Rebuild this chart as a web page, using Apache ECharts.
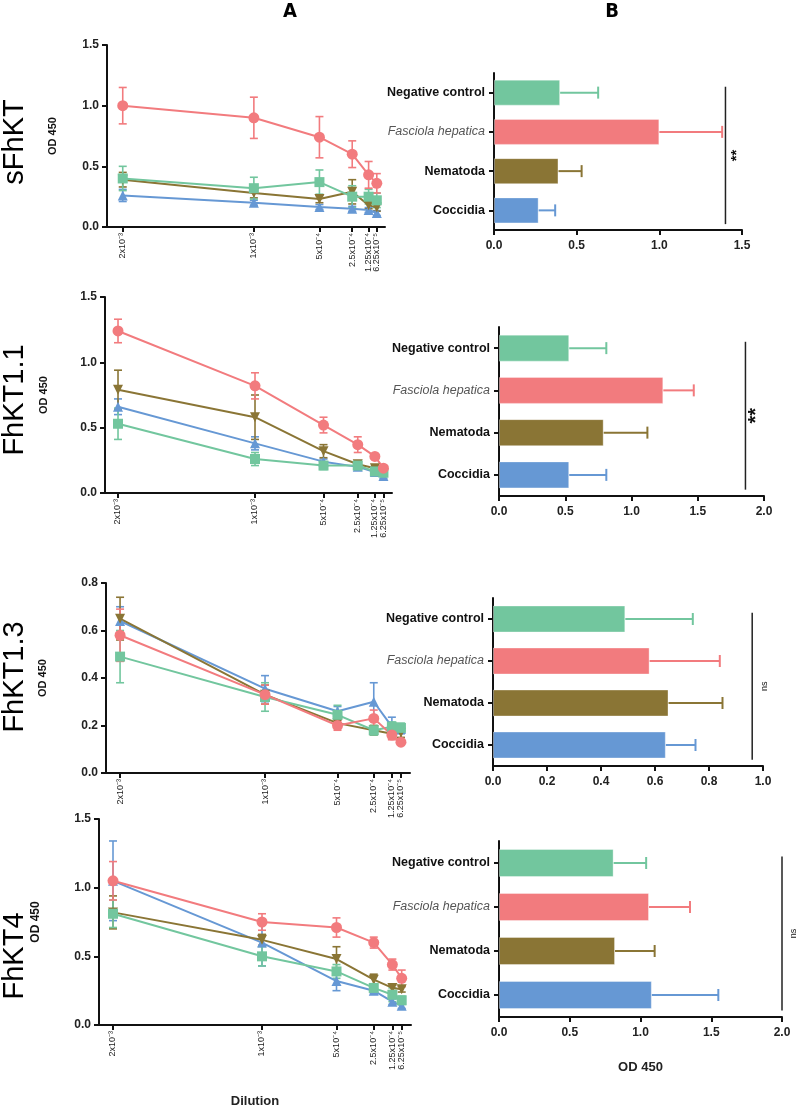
<!DOCTYPE html>
<html><head><meta charset="utf-8">
<script src="https://cdn.jsdelivr.net/npm/echarts@6/dist/echarts.min.js"></script>
<style>html,body{margin:0;padding:0;background:#fff}#c{width:800px;height:1114px}</style>
</head><body><div id="c"></div><script>
// ---------------- DATA ----------------
const dilutions = [2e-3, 1e-3, 5e-4, 2.5e-4, 1.25e-4, 6.25e-5];
const dilutionLabels = ['2x10⁻³', '1x10⁻³', '5x10⁻⁴', '2.5x10⁻⁴', '1.25x10⁻⁴', '6.25x10⁻⁵'];
const groups = ['Negative control', 'Fasciola hepatica', 'Nematoda', 'Coccidia'];
const antigens = ['sFhKT', 'FhKT1.1', 'FhKT1.3', 'FhKT4'];

// line plots (A): rows = groups [Negative control, Fasciola hepatica, Nematoda, Coccidia], cols = dilutions
const sFhKT_lineMean = [
  [0.40, 0.32, 0.37, 0.25, 0.25, 0.22],
  [1.00, 0.90, 0.74, 0.60, 0.43, 0.36],
  [0.39, 0.28, 0.23, 0.29, 0.18, 0.16],
  [0.26, 0.20, 0.165, 0.15, 0.14, 0.115]];
const sFhKT_lineErr = [
  [0.10, 0.09, 0.10, 0.09, 0.06, 0.06],
  [0.15, 0.17, 0.17, 0.11, 0.11, 0.08],
  [0.06, 0.04, 0.03, 0.10, 0.03, 0.03],
  [0.05, 0.02, 0.02, 0.02, 0.02, 0.02]];
const FhKT11_lineMean = [
  [0.53, 0.26, 0.21, 0.21, 0.165, 0.155],
  [1.24, 0.82, 0.52, 0.37, 0.28, 0.19],
  [0.79, 0.58, 0.32, 0.22, 0.19, 0.17],
  [0.66, 0.38, 0.24, 0.20, 0.16, 0.13]];
const FhKT11_lineErr = [
  [0.12, 0.05, 0.03, 0.02, 0.02, 0.02],
  [0.09, 0.10, 0.06, 0.06, 0.02, 0.02],
  [0.15, 0.17, 0.05, 0.02, 0.02, 0.02],
  [0.06, 0.05, 0.02, 0.02, 0.02, 0.02]];
const FhKT13_lineMean = [
  [0.49, 0.32, 0.245, 0.18, 0.195, 0.19],
  [0.58, 0.33, 0.20, 0.23, 0.16, 0.13],
  [0.65, 0.33, 0.21, 0.18, 0.165, 0.17],
  [0.64, 0.355, 0.26, 0.30, 0.195, 0.185]];
const FhKT13_lineErr = [
  [0.11, 0.06, 0.04, 0.02, 0.02, 0.02],
  [0.11, 0.04, 0.02, 0.035, 0.02, 0.01],
  [0.09, 0.04, 0.02, 0.02, 0.02, 0.02],
  [0.06, 0.055, 0.02, 0.08, 0.04, 0.02]];
const FhKT4_lineMean = [
  [0.81, 0.50, 0.39, 0.27, 0.22, 0.18],
  [1.05, 0.75, 0.71, 0.60, 0.44, 0.34],
  [0.82, 0.62, 0.48, 0.33, 0.27, 0.26],
  [1.05, 0.60, 0.32, 0.25, 0.17, 0.14]];
const FhKT4_lineErr = [
  [0.10, 0.07, 0.05, 0.03, 0.05, 0.03],
  [0.14, 0.06, 0.07, 0.04, 0.04, 0.06],
  [0.12, 0.04, 0.09, 0.04, 0.02, 0.02],
  [0.29, 0.17, 0.07, 0.02, 0.02, 0.02]];

// bar plots (B): [Negative control, Fasciola hepatica, Nematoda, Coccidia]
const sFhKT_barMean = [0.40, 1.00, 0.39, 0.27];
const sFhKT_barErr = [0.23, 0.38, 0.14, 0.10];
const FhKT11_barMean = [0.53, 1.24, 0.79, 0.53];
const FhKT11_barErr = [0.28, 0.23, 0.33, 0.28];
const FhKT13_barMean = [0.49, 0.58, 0.65, 0.64];
const FhKT13_barErr = [0.25, 0.26, 0.20, 0.11];
const FhKT4_barMean = [0.81, 1.06, 0.82, 1.08];
const FhKT4_barErr = [0.23, 0.29, 0.28, 0.47];

const significance = ['**', '**', 'ns', 'ns'];
const sigBracketValue = [1.40, 1.86, 0.96, 2.0];

const lineYMax = [1.5, 1.5, 0.8, 1.5];
const lineYInterval = [0.5, 0.5, 0.2, 0.5];
const barXMax = [1.5, 2.0, 1.0, 2.0];
const barXInterval = [0.5, 0.5, 0.2, 0.5];

// ---------------- STYLE / LAYOUT ----------------
const lineMeans = [sFhKT_lineMean, FhKT11_lineMean, FhKT13_lineMean, FhKT4_lineMean];
const lineErrs = [sFhKT_lineErr, FhKT11_lineErr, FhKT13_lineErr, FhKT4_lineErr];
const barMeans = [sFhKT_barMean, FhKT11_barMean, FhKT13_barMean, FhKT4_barMean];
const barErrs = [sFhKT_barErr, FhKT11_barErr, FhKT13_barErr, FhKT4_barErr];

const colors = ['#72c69e', '#f27b7e', '#8a7535', '#6698d4'];
const symbols = ['rect', 'circle', 'triangle', 'triangle'];
const symbolRot = [0, 0, 180, 0];
const symbolSizes = [10, 11, 10, 10];
const drawOrder = [3, 2, 0, 1];
const FONT = 'Liberation Sans, Arial, sans-serif';

const lineGrids = [
  {left: 107, top: 45, width: 278, height: 182},
  {left: 105, top: 297, width: 287, height: 196},
  {left: 106, top: 583, width: 304, height: 190},
  {left: 99, top: 819, width: 312, height: 206}];
const lineXMax = [2.12e-3, 2.095e-3, 2.097e-3, 2.094e-3];
const yNameGap = [49, 56, 58, 57];
const barGrids = [
  {left: 494, top: 73, width: 248, height: 157},
  {left: 499, top: 327, width: 265, height: 169},
  {left: 493, top: 598, width: 270, height: 168},
  {left: 499, top: 841, width: 283, height: 176}];
const barWidths = [26, 27, 27, 28];
const sigFont = [15, 20, 9, 9];
const sigWeight = ['bold', 'bold', 'normal', 'normal'];
const rowTitleY = [142, 400, 677, 956];

const axisLineStyle = {lineStyle: {color: '#111', width: 2}};
const tickStyle = {show: true, length: 5, lineStyle: {color: '#111', width: 2}};

function labelFor(v) {
  const i = dilutions.findIndex(d => Math.abs(d - v) < 1e-9);
  return i >= 0 ? dilutionLabels[i] : '';
}
const xLabelStyle = {rotate: 90, fontSize: 9, color: '#222', fontFamily: FONT, margin: 6,
  showMinLabel: true, showMaxLabel: true, hideOverlap: false, formatter: labelFor};

const grid = [], xAxis = [], yAxis = [], series = [];

for (let p = 0; p < 4; p++) {
  // ---- line panel ----
  const gi = grid.length;
  grid.push(Object.assign({containLabel: false}, lineGrids[p]));
  const xi = xAxis.length;
  xAxis.push({
    type: 'value', gridIndex: gi, min: 0, max: lineXMax[p], inverse: true, position: 'bottom',
    axisLine: {show: true, onZero: false, ...axisLineStyle},
    axisTick: {show: true, length: 5, customValues: dilutions, lineStyle: {color: '#111', width: 2}},
    axisLabel: Object.assign({customValues: dilutions.filter((d, i) => i !== 4)}, xLabelStyle),
    splitLine: {show: false},
    name: p === 3 ? 'Dilution' : '', nameLocation: 'middle', nameGap: 70,
    nameTextStyle: {fontSize: 13, fontWeight: 'bold', color: '#222', fontFamily: FONT}
  });
  // overlay axis carrying the crowded 1.25x10^-4 label
  xAxis.push({
    type: 'value', gridIndex: gi, min: 0, max: lineXMax[p], inverse: true, position: 'bottom',
    axisLine: {show: false, onZero: false}, axisTick: {show: false},
    axisLabel: Object.assign({customValues: [dilutions[4]]}, xLabelStyle),
    splitLine: {show: false}
  });
  const yi = yAxis.length;
  yAxis.push({
    type: 'value', gridIndex: gi, min: 0, max: lineYMax[p], interval: lineYInterval[p], position: 'left',
    axisLine: {show: true, onZero: false, ...axisLineStyle}, axisTick: tickStyle,
    axisLabel: {fontSize: 12, fontWeight: 'bold', color: '#222', fontFamily: FONT, margin: 8,
      formatter: v => v.toFixed(1)},
    splitLine: {show: false},
    name: 'OD 450', nameLocation: 'middle', nameGap: yNameGap[p],
    nameTextStyle: {fontSize: p === 3 ? 12 : 11, fontWeight: 'bold', color: '#111', fontFamily: FONT}
  });
  drawOrder.forEach(g => {
    const pts = dilutions.map((d, k) => [d, lineMeans[p][g][k], lineErrs[p][g][k]]);
    series.push({
      type: 'custom', xAxisIndex: xi, yAxisIndex: yi, z: 2, silent: true,
      itemStyle: {color: colors[g]}, data: pts,
      encode: {x: 0, y: 1},
      renderItem: (params, api) => {
        const x = api.value(0), m = api.value(1), e = api.value(2);
        const t = api.coord([x, m + e]), b = api.coord([x, m - e]);
        const st = {stroke: colors[g], lineWidth: 1.6};
        return {type: 'group', children: [
          {type: 'line', shape: {x1: t[0], y1: t[1], x2: b[0], y2: b[1]}, style: st},
          {type: 'line', shape: {x1: t[0] - 4, y1: t[1], x2: t[0] + 4, y2: t[1]}, style: st},
          {type: 'line', shape: {x1: b[0] - 4, y1: b[1], x2: b[0] + 4, y2: b[1]}, style: st}]};
      }
    });
    series.push({
      type: 'line', xAxisIndex: xi, yAxisIndex: yi, z: 3, name: groups[g],
      data: pts.map(q => [q[0], q[1]]),
      symbol: symbols[g], symbolSize: symbolSizes[g], symbolRotate: symbolRot[g],
      lineStyle: {color: colors[g], width: 2}, itemStyle: {color: colors[g]},
      animation: false
    });
  });

  // ---- bar panel ----
  const bi = grid.length;
  grid.push(Object.assign({containLabel: false}, barGrids[p]));
  const bxi = xAxis.length;
  xAxis.push({
    type: 'value', gridIndex: bi, min: 0, max: barXMax[p], interval: barXInterval[p], position: 'bottom',
    axisLine: {show: true, onZero: false, ...axisLineStyle}, axisTick: tickStyle,
    axisLabel: {fontSize: 12, fontWeight: 'bold', color: '#222', fontFamily: FONT, margin: 10,
      formatter: v => v.toFixed(1)},
    splitLine: {show: false},
    name: p === 3 ? 'OD 450' : '', nameLocation: 'middle', nameGap: 44,
    nameTextStyle: {fontSize: 13, fontWeight: 'bold', color: '#222', fontFamily: FONT}
  });
  const byi = yAxis.length;
  yAxis.push({
    type: 'category', gridIndex: bi, data: groups, inverse: true, position: 'left',
    axisLine: {show: true, onZero: false, ...axisLineStyle},
    axisTick: {show: true, alignWithLabel: true, length: 5, lineStyle: {color: '#111', width: 2}},
    axisLabel: {margin: 9, fontFamily: FONT,
      formatter: v => v === 'Fasciola hepatica' ? '{it|' + v + '}' : '{b|' + v + '}',
      rich: {
        it: {fontStyle: 'italic', fontWeight: 'normal', color: '#555', fontSize: 12.5, fontFamily: FONT},
        b: {fontWeight: 'bold', color: '#111', fontSize: 12.5, fontFamily: FONT}}},
    splitLine: {show: false}
  });
  series.push({
    type: 'bar', xAxisIndex: bxi, yAxisIndex: byi, barWidth: barWidths[p], z: 2,
    data: barMeans[p].map((v, i) => ({value: v, itemStyle: {color: colors[i], borderColor: 'rgba(255,255,255,0.35)', borderWidth: 1}})),
    animation: false
  });
  series.push({
    type: 'custom', xAxisIndex: bxi, yAxisIndex: byi, z: 3, silent: true,
    data: barMeans[p].map((v, i) => [v, groups[i], barErrs[p][i]]),
    encode: {x: 0, y: 1},
    renderItem: (params, api) => {
      const i = params.dataIndex;
      const m = api.value(0), e = api.value(2), c = api.value(1);
      const s = api.coord([m, c]), t = api.coord([m + e, c]);
      const st = {stroke: colors[i], lineWidth: 2};
      return {type: 'group', children: [
        {type: 'line', shape: {x1: s[0], y1: s[1], x2: t[0], y2: t[1]}, style: st},
        {type: 'line', shape: {x1: t[0], y1: t[1] - 6, x2: t[0], y2: t[1] + 6}, style: st}]};
    }
  });
  series.push({
    type: 'custom', xAxisIndex: bxi, yAxisIndex: byi, z: 3, silent: true,
    data: [[sigBracketValue[p], groups[0], significance[p]]],
    encode: {x: 0, y: 1},
    renderItem: (params, api) => {
      const x = api.value(0);
      const band = api.size([0, 1])[1];
      const a = api.coord([x, 0]), b = api.coord([x, 3]);
      const y1 = a[1] - 0.15 * band, y2 = b[1] + 0.35 * band;
      return {type: 'group', children: [
        {type: 'line', shape: {x1: a[0], y1: y1, x2: a[0], y2: y2}, style: {stroke: '#222', lineWidth: 1.5}},
        {type: 'text', x: a[0] + (p < 2 ? 11 : 12), y: (y1 + y2) / 2, rotation: Math.PI / 2,
          style: {text: significance[p], fontSize: sigFont[p], fontWeight: sigWeight[p], fill: '#111',
            fontFamily: FONT, align: 'center', verticalAlign: 'middle'}}]};
    }
  });
}

const graphic = [
  {type: 'text', x: 290, y: 12, style: {text: 'A', fontSize: 20, fontWeight: 'bold', fill: '#000',
    fontFamily: 'Liberation Sans Narrow, DejaVu Sans Condensed, sans-serif', align: 'center', verticalAlign: 'middle'}},
  {type: 'text', x: 612, y: 12, style: {text: 'B', fontSize: 20, fontWeight: 'bold', fill: '#000',
    fontFamily: 'Liberation Sans Narrow, DejaVu Sans Condensed, sans-serif', align: 'center', verticalAlign: 'middle'}}
];
antigens.forEach((a, i) => graphic.push({
  type: 'text', x: 15, y: rowTitleY[i], rotation: Math.PI / 2,
  style: {text: a, fontSize: 29, fill: '#000', fontFamily: FONT, align: 'center', verticalAlign: 'middle'}
}));

const chart = echarts.init(document.getElementById('c'), null, {renderer: 'canvas'});
chart.setOption({
  animation: false, backgroundColor: '#fff',
  grid, xAxis, yAxis, series, graphic
});
</script></body></html>
